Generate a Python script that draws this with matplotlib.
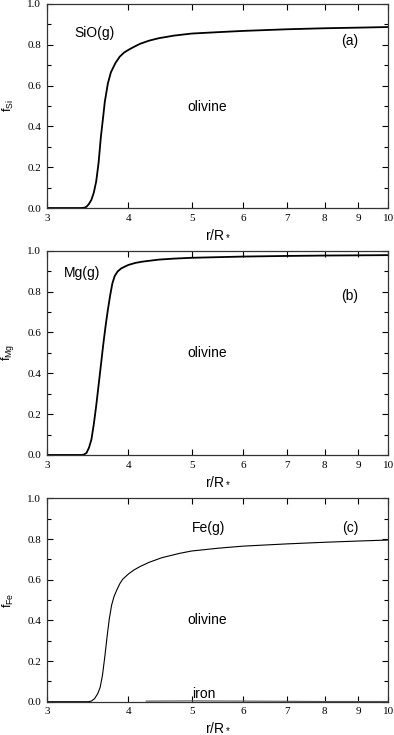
import matplotlib.pyplot as plt
from matplotlib.ticker import FixedLocator, NullLocator, MultipleLocator

plt.rcParams['mathtext.fontset'] = 'custom'
plt.rcParams['mathtext.rm'] = 'Liberation Sans'
plt.rcParams['mathtext.it'] = 'Liberation Sans:italic'

# panel (a): SiO(g) -> olivine
r_si = [3.0, 3.38, 3.42, 3.45, 3.48, 3.51, 3.54, 3.57, 3.60, 3.63, 3.66, 3.68, 3.72,
        3.76, 3.82, 3.88, 3.94, 4.0, 4.08, 4.17, 4.3, 4.45, 4.7, 5.0, 5.5, 6.0, 7.0,
        8.0, 9.0, 10.0]
f_si = [0.0, 0.0, 0.001, 0.006, 0.02, 0.04, 0.075, 0.13, 0.22, 0.35, 0.45, 0.52, 0.61,
        0.665, 0.71, 0.742, 0.762, 0.775, 0.79, 0.805, 0.82, 0.832, 0.845, 0.855, 0.862,
        0.868, 0.876, 0.881, 0.884, 0.887]

# panel (b): Mg(g) -> olivine
r_mg = [3.0, 3.39, 3.42, 3.45, 3.48, 3.51, 3.54, 3.57, 3.60, 3.63, 3.66, 3.69, 3.72,
        3.75, 3.78, 3.81, 3.85, 3.90, 3.95, 4.0, 4.1, 4.2, 4.45, 4.7, 5.0, 6.0, 7.0,
        8.0, 9.0, 10.0]
f_mg = [0.0, 0.0, 0.002, 0.01, 0.035, 0.075, 0.15, 0.24, 0.34, 0.44, 0.54, 0.63, 0.71,
        0.78, 0.84, 0.875, 0.898, 0.913, 0.922, 0.93, 0.94, 0.946, 0.956, 0.961, 0.965,
        0.971, 0.974, 0.976, 0.977, 0.978]

# panel (c): Fe(g) -> olivine, iron
r_fe = [3.0, 3.47, 3.51, 3.55, 3.59, 3.62, 3.65, 3.68, 3.71, 3.74, 3.77, 3.80, 3.84,
        3.88, 3.92, 4.0, 4.08, 4.17, 4.3, 4.5, 4.8, 5.0, 5.5, 6.0, 7.0, 8.0, 9.0, 10.0]
f_fe = [0.0, 0.0, 0.003, 0.015, 0.04, 0.07, 0.13, 0.22, 0.32, 0.41, 0.475, 0.515, 0.55,
        0.58, 0.602, 0.628, 0.648, 0.665, 0.685, 0.708, 0.73, 0.741, 0.755, 0.765,
        0.776, 0.784, 0.790, 0.795]
r_iron = [4.26, 5.0, 6.0, 7.0, 8.0, 9.0, 10.0]
f_iron = [0.003, 0.004, 0.003, 0.002, 0.001, 0.001, 0.001]

xticks = [3, 4, 5, 6, 7, 8, 9, 10]
yticks = [0.0, 0.2, 0.4, 0.6, 0.8, 1.0]

fig = plt.figure(figsize=(3.94, 7.35), dpi=100)
boxes = [[0.119, 0.717, 0.866, 0.2776],
         [0.119, 0.381, 0.866, 0.278],
         [0.119, 0.0453, 0.866, 0.2767]]

sans = 'Liberation Sans'
serif = 'Liberation Serif'


def setup(ax, ylab):
    ax.set_xscale('log')
    ax.set_xlim(3, 10)
    ax.set_ylim(0, 1)
    ax.xaxis.set_major_locator(FixedLocator(xticks))
    ax.xaxis.set_minor_locator(NullLocator())
    ax.set_xticklabels([str(t) for t in xticks], family=serif, fontsize=8)
    ax.set_yticks(yticks)
    ax.set_yticklabels(['%.1f' % t for t in yticks], family=serif, fontsize=8)
    ax.yaxis.set_minor_locator(MultipleLocator(0.1))
    ax.tick_params(which='both', direction='in', top=True, right=True, width=0.8)
    ax.tick_params(which='major', length=4, pad=4)
    ax.tick_params(which='minor', length=3)
    ax.set_xlabel(r'r/R$_*$', family=sans, fontsize=10, labelpad=3)
    ax.set_ylabel(ylab, family=sans, fontsize=9, labelpad=8)
    for s in ax.spines.values():
        s.set_linewidth(0.9)
        s.set_color('#333333')


ax1 = fig.add_axes(boxes[0])
ax1.plot(r_si, f_si, color='black', linewidth=1.3)
setup(ax1, r'f$_{\rm Si}$')
ax1.text(3.30, 0.86, 'SiO(g)', family=sans, fontsize=10, va='center')
ax1.text(8.74, 0.82, '(a)', family=sans, fontsize=10, va='center', ha='center')
ax1.text(5.29, 0.495, 'olivine', family=sans, fontsize=10, va='center', ha='center')

ax2 = fig.add_axes(boxes[1])
ax2.plot(r_mg, f_mg, color='black', linewidth=1.3)
setup(ax2, r'f$_{\rm Mg}$')
ax2.text(3.19, 0.89, 'Mg(g)', family=sans, fontsize=10, va='center')
ax2.text(8.74, 0.78, '(b)', family=sans, fontsize=10, va='center', ha='center')
ax2.text(5.29, 0.50, 'olivine', family=sans, fontsize=10, va='center', ha='center')

ax3 = fig.add_axes(boxes[2])
ax3.plot(r_fe, f_fe, color='black', linewidth=0.8)
ax3.plot(r_iron, f_iron, color='#555555', linewidth=0.8)
setup(ax3, r'f$_{\rm Fe}$')
ax3.text(5.01, 0.855, 'Fe(g)', family=sans, fontsize=10, va='center')
ax3.text(8.74, 0.855, '(c)', family=sans, fontsize=10, va='center', ha='center')
ax3.text(5.29, 0.40, 'olivine', family=sans, fontsize=10, va='center', ha='center')
ax3.text(5.01, 0.005, 'iron', family=sans, fontsize=10, va='bottom')

fig.savefig('out.png', dpi=100)
